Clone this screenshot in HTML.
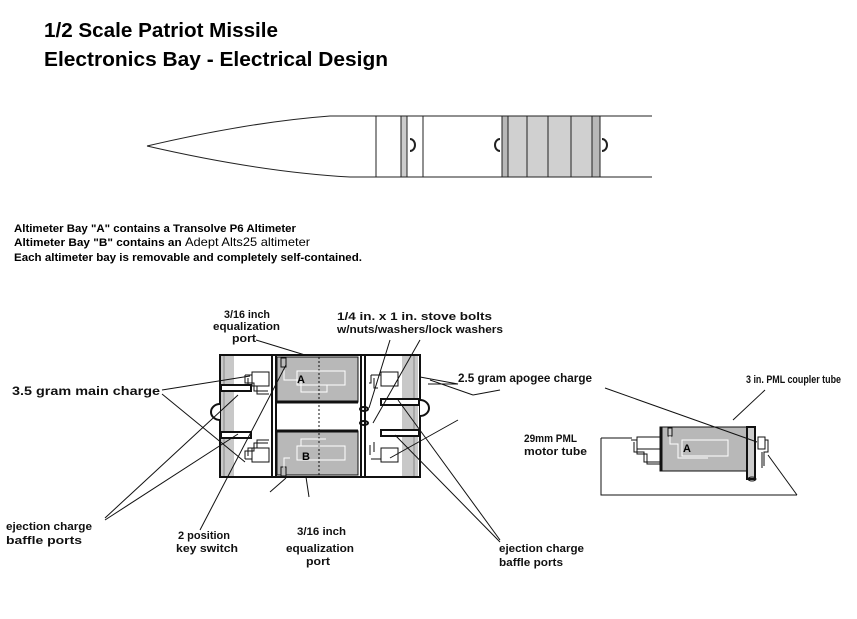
<!DOCTYPE html>
<html><head><style>
html,body{margin:0;padding:0;background:#fff;}
svg{display:block;font-family:"Liberation Sans",Arial,sans-serif;}
</style></head><body>
<svg width="857" height="619" viewBox="0 0 857 619" xmlns="http://www.w3.org/2000/svg">
<rect width="857" height="619" fill="#fff"/>
<text x="44" y="37" font-size="20" font-weight="bold" textLength="234" lengthAdjust="spacingAndGlyphs">1/2 Scale Patriot Missile</text>
<text x="44" y="66" font-size="20" font-weight="bold" textLength="344" lengthAdjust="spacingAndGlyphs">Electronics Bay -  Electrical Design</text>

<g stroke="#222" fill="none" stroke-width="1">
<path d="M147,146 Q250,122 330,116 L652,116"/>
<path d="M147,146 Q260,172 350,177 L652,177"/>
<rect x="376" y="116" width="47" height="61" fill="#fff"/>
<rect x="401" y="116" width="6" height="61" fill="#ccc"/>
<rect x="502" y="116" width="98" height="61" fill="#d0d0d0"/>
<rect x="502" y="116" width="6" height="61" fill="#b8b8b8"/>
<rect x="592" y="116" width="8" height="61" fill="#b8b8b8"/>
<line x1="527" y1="116" x2="527" y2="177"/>
<line x1="548" y1="116" x2="548" y2="177"/>
<line x1="571" y1="116" x2="571" y2="177"/>
<path d="M410,139 a5,6 0 0 1 0,12" stroke-width="2"/>
<path d="M500,139 a5,6 0 0 0 0,12" stroke-width="2"/>
<path d="M602,139 a5,6 0 0 1 0,12" stroke-width="2"/>
</g>

<g font-size="11" font-weight="bold">
<text x="14" y="232" textLength="282" lengthAdjust="spacingAndGlyphs">Altimeter Bay "A" contains a Transolve P6 Altimeter</text>
<text x="14" y="246" textLength="296" lengthAdjust="spacingAndGlyphs">Altimeter Bay "B" contains  an  <tspan font-weight="normal" font-size="12">Adept Alts25 altimeter</tspan></text>
<text x="14" y="261" textLength="348" lengthAdjust="spacingAndGlyphs">Each altimeter bay is removable  and completely self-contained.</text>
</g>

<g stroke="#111" fill="none">
<rect x="220" y="355" width="200" height="122" stroke-width="2"/>
<rect x="221" y="356" width="13" height="120" fill="#c8c8c8" stroke="none"/>
<rect x="402" y="356" width="16" height="120" fill="#c8c8c8" stroke="none"/>
<line x1="224" y1="356" x2="224" y2="476" stroke="#888"/>
<line x1="414" y1="356" x2="414" y2="476" stroke="#888"/>
<rect x="277" y="357" width="81" height="45" fill="#b8b8b8" stroke-width="1"/>
<rect x="277" y="431" width="81" height="44" fill="#b8b8b8" stroke-width="1"/>
<line x1="277" y1="402" x2="358" y2="402" stroke-width="3"/>
<line x1="277" y1="431" x2="358" y2="431" stroke-width="3"/>
<line x1="319" y1="357" x2="319" y2="475" stroke-dasharray="2,2"/>
<line x1="272" y1="355" x2="272" y2="477" stroke-width="2"/>
<line x1="276" y1="355" x2="276" y2="477" stroke-width="2"/>
<line x1="361" y1="355" x2="361" y2="477" stroke-width="2"/>
<line x1="365" y1="355" x2="365" y2="477" stroke-width="2"/>
<rect x="281" y="358" width="5" height="9" fill="#bbb"/>
<rect x="281" y="467" width="5" height="9" fill="#bbb"/>
<rect x="297" y="371" width="48" height="14" stroke="#fff"/>
<rect x="297" y="446" width="48" height="14" stroke="#fff"/>
<path d="M284,370 v10 h17 v12 h26 v-7" stroke="#fff"/>
<path d="M290,458 h-6 v10 M301,446 v-7 h25" stroke="#fff"/>
<path d="M252,372 h17 v14 h-17 z M245,375 h7 M245,375 v8 h9 v8 h14 M248,378 v8 h9 v8 h12" fill="#fff"/>
<path d="M252,448 h17 v14 h-17 z M245,459 h7 M245,459 v-8 h9 v-8 h14 M248,456 v-8 h9 v-8 h12" fill="#fff"/>
<path d="M398,372 h-17 v14 h17 z M371,375 h10 M371,375 v8 h-2 M374,378 v10 h4" fill="#fff"/>
<path d="M398,448 h-17 v14 h17 z M371,459 h10 M370,445 v10 M374,442 v10" fill="#fff"/>
<rect x="221" y="385" width="30" height="6" stroke-width="2" fill="#fff"/>
<rect x="221" y="432" width="30" height="6" stroke-width="2" fill="#fff"/>
<rect x="381" y="399" width="38" height="6" stroke-width="2" fill="#fff"/>
<rect x="381" y="430" width="38" height="6" stroke-width="2" fill="#fff"/>
<path d="M220,404 a9,8 0 0 0 0,16" stroke-width="2" fill="#fff"/>
<path d="M420,400 a9,8 0 0 1 0,16" stroke-width="2" fill="#fff"/>
<ellipse cx="364" cy="409" rx="4" ry="2" stroke-width="2"/>
<ellipse cx="364" cy="423" rx="4" ry="2" stroke-width="2"/>
</g>
<text x="297" y="383" font-size="11" font-weight="bold">A</text>
<text x="302" y="460" font-size="11" font-weight="bold">B</text>

<g stroke="#111" fill="none">
<polyline points="601,438 601,495 797,495"/>
<line x1="601" y1="438" x2="632" y2="438"/>
<rect x="660" y="427" width="88" height="44" fill="#b8b8b8"/>
<line x1="661" y1="427" x2="661" y2="471" stroke-width="3"/>
<rect x="747" y="427" width="8" height="52" fill="#ccc" stroke-width="2"/>
<ellipse cx="752" cy="479" rx="4" ry="2"/>
<rect x="668" y="428" width="4" height="8" fill="#ccc"/>
<rect x="682" y="440" width="46" height="16" stroke="#fff"/>
<path d="M670,436 v8 h8 v14 h30" stroke="#fff"/>
<path d="M637,437 h23 v12 h-23 z M631,440 h6 v14 h10 v10 h13 M634,442 v10 h10 v10 h16" fill="#fff"/>
<path d="M758,437 h7 v12 h-7 z M765,440 h3 v12 h-4 v14 M762,452 v16" fill="#fff"/>
</g>
<text x="683" y="452" font-size="11" font-weight="bold">A</text>

<g stroke="#111" stroke-width="1">
<line x1="162" y1="390" x2="250" y2="376"/>
<line x1="162" y1="394" x2="245" y2="462"/>
<line x1="105" y1="518" x2="238" y2="395"/>
<line x1="105" y1="520" x2="238" y2="434"/>
<line x1="200" y1="530" x2="286" y2="365"/>
<line x1="256" y1="340" x2="305" y2="355"/>
<line x1="286" y1="478" x2="270" y2="492"/>
<line x1="306" y1="477" x2="309" y2="497"/>
<line x1="390" y1="340" x2="369" y2="408"/>
<line x1="420" y1="340" x2="373" y2="423"/>
<line x1="420" y1="377" x2="458" y2="384"/>
<line x1="458" y1="384" x2="428" y2="384"/>
<line x1="390" y1="458" x2="458" y2="420"/>
<line x1="430" y1="380" x2="473" y2="395"/>
<line x1="473" y1="395" x2="500" y2="390"/>
<line x1="500" y1="540" x2="398" y2="400"/>
<line x1="500" y1="542" x2="395" y2="435"/>
<line x1="605" y1="388" x2="757" y2="442"/>
<line x1="765" y1="390" x2="733" y2="420"/>
<line x1="768" y1="455" x2="797" y2="495"/>
</g>

<g font-size="11" font-weight="bold" fill="#111">
<text x="12" y="395" font-size="12" textLength="148" lengthAdjust="spacingAndGlyphs">3.5 gram main charge</text>
<text x="224" y="318" textLength="46" lengthAdjust="spacingAndGlyphs">3/16 inch</text>
<text x="213" y="330" textLength="67" lengthAdjust="spacingAndGlyphs">equalization</text>
<text x="232" y="342" textLength="24" lengthAdjust="spacingAndGlyphs">port</text>
<text x="337" y="320" textLength="155" lengthAdjust="spacingAndGlyphs">1/4 in. x 1 in. stove bolts</text>
<text x="337" y="333" textLength="166" lengthAdjust="spacingAndGlyphs">w/nuts/washers/lock washers</text>
<text x="458" y="382" font-size="12" textLength="134" lengthAdjust="spacingAndGlyphs">2.5 gram apogee charge</text>
<text x="746" y="383" textLength="95" lengthAdjust="spacingAndGlyphs">3 in. PML coupler tube</text>
<text x="524" y="442" textLength="53" lengthAdjust="spacingAndGlyphs">29mm PML</text>
<text x="524" y="455" textLength="63" lengthAdjust="spacingAndGlyphs">motor tube</text>
<text x="6" y="530" textLength="86" lengthAdjust="spacingAndGlyphs">ejection charge</text>
<text x="6" y="544" textLength="76" lengthAdjust="spacingAndGlyphs">baffle ports</text>
<text x="178" y="539" textLength="52" lengthAdjust="spacingAndGlyphs">2 position</text>
<text x="176" y="552" textLength="62" lengthAdjust="spacingAndGlyphs">key switch</text>
<text x="297" y="535" textLength="49" lengthAdjust="spacingAndGlyphs">3/16 inch</text>
<text x="286" y="552" textLength="68" lengthAdjust="spacingAndGlyphs">equalization</text>
<text x="306" y="565" textLength="24" lengthAdjust="spacingAndGlyphs">port</text>
<text x="499" y="552" textLength="85" lengthAdjust="spacingAndGlyphs">ejection charge</text>
<text x="499" y="566" textLength="64" lengthAdjust="spacingAndGlyphs">baffle ports</text>
</g>
</svg>
</body></html>
